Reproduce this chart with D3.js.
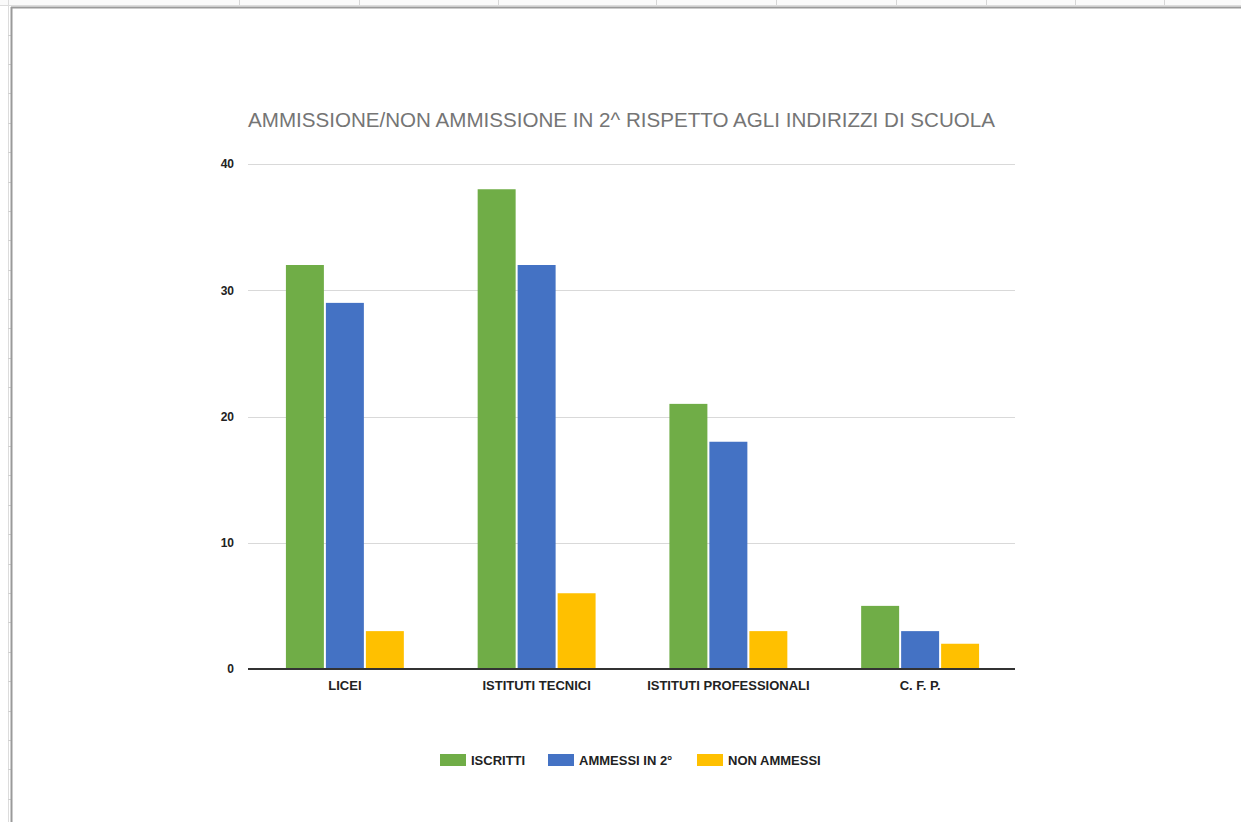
<!DOCTYPE html>
<html><head><meta charset="utf-8">
<script src="https://cdn.jsdelivr.net/npm/d3@7"></script>
<style>html,body{margin:0;padding:0;background:#fff;overflow:hidden}</style>
</head><body>
<svg id="c" width="1241" height="822"></svg>
<script>
const categories = ["LICEI", "ISTITUTI TECNICI", "ISTITUTI PROFESSIONALI", "C. F. P."];
const seriesNames = ["ISCRITTI", "AMMESSI IN 2°", "NON AMMESSI"];
const iscritti = [32, 38, 21, 5];
const ammessi = [29, 32, 18, 3];
const nonAmmessi = [3, 6, 3, 2];
const yTicks = [0, 10, 20, 30, 40];
const colors = ["#70AD47", "#4472C4", "#FFC000"];
const title = "AMMISSIONE/NON AMMISSIONE IN 2^ RISPETTO AGLI INDIRIZZI DI SCUOLA";
const colSeps = [239, 359, 498, 656, 776, 896, 986, 1075, 1164];

(function () {
const values = [iscritti, ammessi, nonAmmessi];
const svg = d3.select("#c");
const font = "'Liberation Sans', Arial, sans-serif";

// spreadsheet frame
const frame = svg.append("g");
frame.append("rect").attr("x",0).attr("y",0).attr("width",1241).attr("height",5).attr("fill","#fafafa");
colSeps.forEach(x => frame.append("line").attr("x1",x+0.5).attr("x2",x+0.5).attr("y1",0).attr("y2",6).attr("stroke","#d6d6d6"));
frame.append("line").attr("x1",0).attr("x2",1241).attr("y1",5.5).attr("y2",5.5).attr("stroke","#dcdcdc");
frame.append("line").attr("x1",8.5).attr("x2",8.5).attr("y1",0).attr("y2",822).attr("stroke","#dcdcdc");
for (let yy = 34.5; yy < 822; yy += 29.4) {
  frame.append("line").attr("x1",8).attr("x2",11).attr("y1",Math.round(yy)+0.5).attr("y2",Math.round(yy)+0.5).attr("stroke","#d0d0d0");
}
frame.append("line").attr("x1",11).attr("x2",1241).attr("y1",7.5).attr("y2",7.5).attr("stroke","#9a9a9a").attr("stroke-width",2);
frame.append("line").attr("x1",11.5).attr("x2",11.5).attr("y1",7).attr("y2",822).attr("stroke","#9a9a9a").attr("stroke-width",2);

// chart
const pl = 248, pr = 1015, pt = 164, pb = 669;
const y = d3.scaleLinear().domain([0, 40]).range([pb, pt]);
const x0 = d3.scaleBand().domain(categories).range([pl + 1, pr + 1]).paddingInner(0.385).paddingOuter(0.1925);
const x1 = d3.scaleBand().domain(seriesNames).range([0, x0.bandwidth()]).paddingInner(0.05);

// title
const t = svg.append("text").attr("x", pl).attr("y", 127).attr("font-family", font)
  .attr("font-size", 19.5).attr("fill", "#757575").text(title);
const tl = t.node().getComputedTextLength();
if (Math.abs(tl - 747) > 3) t.attr("textLength", 747).attr("lengthAdjust", "spacingAndGlyphs");

// y axis + gridlines
const yAxis = d3.axisLeft(y).tickValues(yTicks).tickSize(0).tickPadding(14);
const ga = svg.append("g").attr("transform", `translate(${pl},0)`).call(yAxis);
ga.select(".domain").remove();
ga.selectAll("text").attr("font-family", font).attr("font-size", 12).attr("font-weight", "bold").attr("fill", "#222");
svg.append("g").selectAll("line").data(yTicks.filter(d => d > 0)).join("line")
  .attr("x1", pl).attr("x2", pr).attr("y1", d => Math.round(y(d)) + 0.5).attr("y2", d => Math.round(y(d)) + 0.5)
  .attr("stroke", "#d9d9d9").attr("stroke-width", 1);

// bars
const groups = svg.append("g").selectAll("g").data(categories).join("g")
  .attr("transform", d => `translate(${x0(d)},0)`);
groups.selectAll("rect").data((c, i) => seriesNames.map((s, j) => ({s, v: values[j][i], j}))).join("rect")
  .attr("x", d => x1(d.s)).attr("width", x1.bandwidth())
  .attr("y", d => y(d.v)).attr("height", d => y(0) - y(d.v))
  .attr("fill", d => colors[d.j]);

// zero line
svg.append("line").attr("x1", pl).attr("x2", pr).attr("y1", pb).attr("y2", pb)
  .attr("stroke", "#333").attr("stroke-width", 2);

// x axis labels
const xAxis = d3.axisBottom(x0).tickSize(0).tickPadding(12);
const gx = svg.append("g").attr("transform", `translate(0,${pb})`).call(xAxis);
gx.select(".domain").remove();
gx.selectAll("text").attr("font-family", font).attr("font-size", 13).attr("font-weight", "bold").attr("fill", "#222");

// legend
const legendX = [440, 548, 697];
const lg = svg.append("g").selectAll("g").data(seriesNames).join("g")
  .attr("transform", (d, i) => `translate(${legendX[i]},754)`);
lg.append("rect").attr("width", 26).attr("height", 12).attr("fill", (d, i) => colors[i]);
lg.append("text").attr("x", 31).attr("y", 10.5).attr("font-family", font).attr("font-size", 13)
  .attr("font-weight", "bold").attr("fill", "#222").text(d => d);
})();
</script>
</body></html>
